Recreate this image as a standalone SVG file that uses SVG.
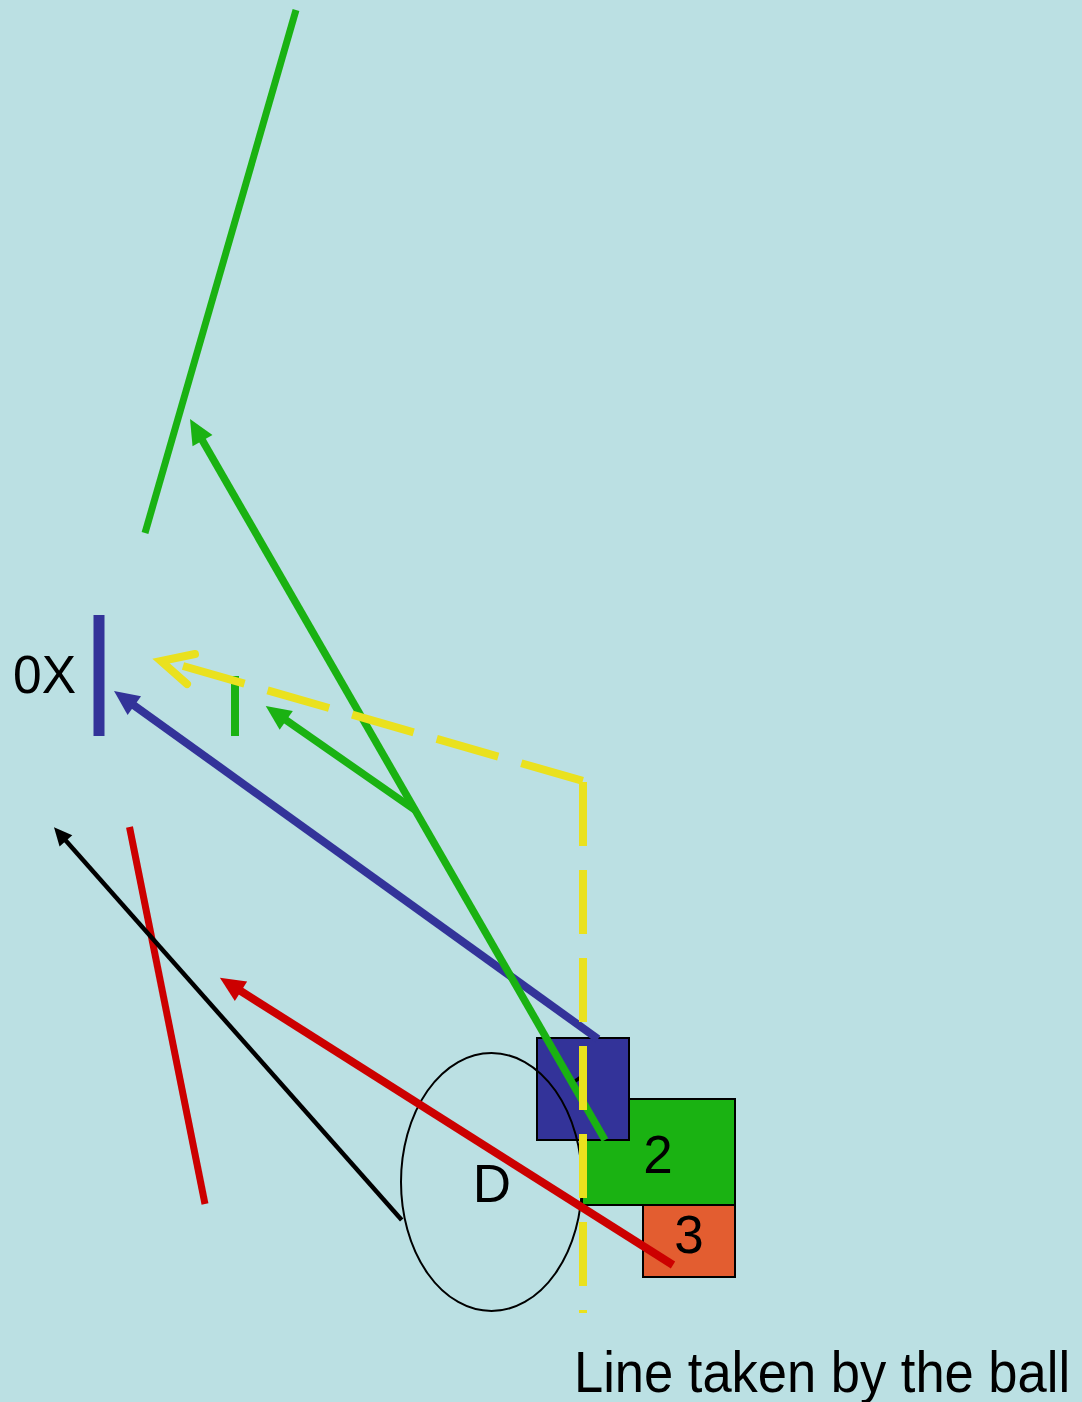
<svg xmlns="http://www.w3.org/2000/svg" width="1082" height="1402" viewBox="0 0 1082 1402">
<defs>
<style>
.t{font-family:"Liberation Sans",Arial,sans-serif;font-size:53px;fill:#000}
.box{stroke:#000;stroke-width:2}
.ln{fill:none;stroke-linecap:butt}
.yd{fill:none;stroke:#EAE11E;stroke-width:8;stroke-dasharray:64 24}
</style>
<clipPath id="clip1"><rect x="537" y="1038" width="92" height="56"/></clipPath>
<marker id="ahBlue" markerUnits="userSpaceOnUse" orient="auto" refX="0" refY="0" markerWidth="40" markerHeight="40" overflow="visible"><path d="M-2,-11.5 L23,0 L-2,11.5 Z" fill="#333399"/></marker>
<marker id="ahGreen" markerUnits="userSpaceOnUse" orient="auto" refX="0" refY="0" markerWidth="40" markerHeight="40" overflow="visible"><path d="M-2,-11.5 L23,0 L-2,11.5 Z" fill="#1AB212"/></marker>
<marker id="ahRed" markerUnits="userSpaceOnUse" orient="auto" refX="0" refY="0" markerWidth="40" markerHeight="40" overflow="visible"><path d="M-2,-11.5 L23,0 L-2,11.5 Z" fill="#CC0000"/></marker>
<marker id="ahBlack" markerUnits="userSpaceOnUse" orient="auto" refX="0" refY="0" markerWidth="30" markerHeight="30" overflow="visible"><path d="M-2,-8.5 L16,0 L-2,8.5 Z" fill="#000"/></marker>
</defs>
<rect x="0" y="0" width="1082" height="1402" fill="#BBE0E3"/>

<g id="node-2"><rect class="box" x="582" y="1099" width="153" height="106" fill="#1AB212"/><text class="t" x="658" y="1173" text-anchor="middle">2</text></g>
<g id="node-3"><rect class="box" x="643" y="1205" width="92" height="72" fill="#E35D30"/><text class="t" x="689" y="1253" text-anchor="middle">3</text></g>
<g id="node-1"><rect class="box" x="537" y="1038" width="92" height="102" fill="#333399"/><text class="t" x="567" y="1112" clip-path="url(#clip1)">1</text></g>
<g id="node-D"><ellipse cx="491.5" cy="1182" rx="90.5" ry="129" fill="none" stroke="#000" stroke-width="2"/><text class="t" x="492" y="1202" text-anchor="middle">D</text></g>
<g id="node-0X"><text class="t" transform="translate(13,693) scale(1,1.05)" x="0" y="0" style="font-size:51.5px">0X</text><line x1="99" y1="615" x2="99" y2="736" stroke="#333399" stroke-width="11"/></g>
<g id="marker-green"><line x1="235" y1="676" x2="235" y2="736" stroke="#1AB212" stroke-width="8"/></g>
<g id="label-ball"><text class="t" transform="translate(574,1392) scale(1,1.08)" x="0" y="0" style="font-size:52.5px">Line taken by the ball</text></g>

<g id="connectors">
<line class="ln" x1="296" y1="10" x2="145" y2="533" stroke="#1AB212" stroke-width="7"/>
<line class="ln" x1="129.5" y1="827" x2="205" y2="1204" stroke="#CC0000" stroke-width="7"/>
<line class="ln" x1="673" y1="1265" x2="239.3" y2="990.1" stroke="#CC0000" stroke-width="8" marker-end="url(#ahRed)"/>
<line class="ln" x1="598" y1="1039" x2="132.7" y2="704.4" stroke="#333399" stroke-width="8" marker-end="url(#ahBlue)"/>
<line class="ln" x1="605" y1="1140" x2="201.5" y2="438.9" stroke="#1AB212" stroke-width="7.5" marker-end="url(#ahGreen)"/>
<line class="ln" x1="415" y1="810" x2="284.6" y2="719.2" stroke="#1AB212" stroke-width="7.5" marker-end="url(#ahGreen)"/>
<line class="ln" x1="401.7" y1="1220" x2="64.6" y2="839.3" stroke="#000" stroke-width="4.5" marker-end="url(#ahBlack)"/>
<line class="yd" x1="183" y1="666" x2="583" y2="781"/>
<line class="yd" x1="583" y1="782" x2="583" y2="1313"/>
<polyline points="195,654 161,661 187,684" fill="none" stroke="#EAE11E" stroke-width="8" stroke-linecap="round" stroke-linejoin="miter"/>
</g>
</svg>
